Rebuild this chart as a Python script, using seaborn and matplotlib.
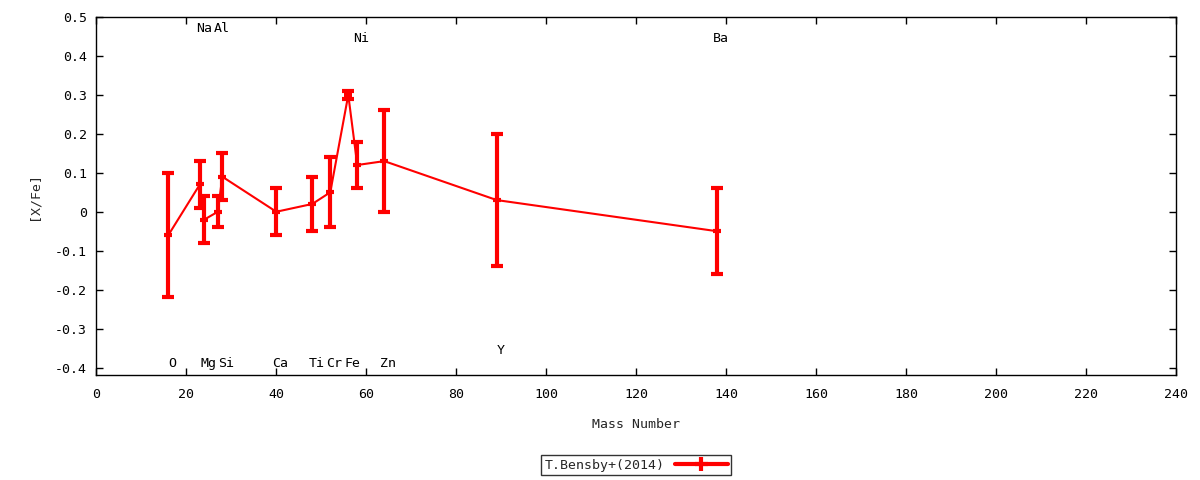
import numpy as np
import pandas as pd
import matplotlib
matplotlib.use('Agg')
import matplotlib.pyplot as plt
import seaborn as sns

# Abundancias T.Bensby+(2014)
elementos = ['O', 'Na', 'Mg', 'Al', 'Si', 'Ca', 'Ti', 'Cr', 'Fe', 'Ni', 'Zn', 'Y', 'Ba']
masa = [16, 23, 24, 27, 28, 40, 48, 52, 56, 58, 64, 89, 138]
x_fe = [-0.06, 0.07, -0.02, 0.00, 0.09, 0.00, 0.02, 0.05, 0.30, 0.12, 0.13, 0.03, -0.05]
error = [0.16, 0.06, 0.06, 0.04, 0.06, 0.06, 0.07, 0.09, 0.01, 0.06, 0.13, 0.17, 0.11]

# altura de las etiquetas de cada elemento
y_etiqueta = [-0.39, 0.47, -0.39, 0.47, -0.39, -0.39, -0.39, -0.39, -0.39, 0.445, -0.39, -0.355, 0.445]

df = pd.DataFrame({'elemento': elementos, 'masa': masa, 'x_fe': x_fe, 'error': error})

sns.set_style('ticks')
plt.rcParams['font.family'] = ['DejaVu Sans Mono']
plt.rcParams['font.size'] = 9.5

fig = plt.figure(figsize=(12, 4.8), dpi=100)
ax = fig.add_axes([0.0803, 0.218, 0.8997, 0.7466])

rojo = '#ff0000'
sns.lineplot(data=df, x='masa', y='x_fe', sort=False, color=rojo, linewidth=1.5, ax=ax)
ax.errorbar(df['masa'], df['x_fe'], yerr=df['error'], fmt='none', ecolor=rojo,
            elinewidth=3, capsize=4, capthick=3, zorder=3)
# marcas horizontales en el valor central
ax.errorbar(df['masa'], df['x_fe'], xerr=0.9, fmt='none', ecolor=rojo,
            elinewidth=3, zorder=3)

for el, m, yl in zip(elementos, masa, y_etiqueta):
    ax.annotate(el, xy=(m, yl), xytext=(3, 0), textcoords='offset points',
                ha='center', va='center', fontsize=9.5, color='black')

ax.set_xlim(0, 240)
ax.set_ylim(-0.42, 0.5)
ax.set_xticks(np.arange(0, 241, 20))
ax.set_yticks(np.arange(-0.4, 0.51, 0.1))
ax.set_yticklabels(['-0.4', '-0.3', '-0.2', '-0.1', '0', '0.1', '0.2', '0.3', '0.4', '0.5'])
ax.tick_params(direction='in', top=True, right=True, length=5, width=1, colors='black')
ax.tick_params(axis='x', pad=9)
ax.tick_params(axis='y', pad=7)
for s in ax.spines.values():
    s.set_linewidth(1)
    s.set_color('black')

ax.set_xlabel('Mass Number', labelpad=12)
ax.set_ylabel('[X/Fe]', labelpad=10)

h = ax.errorbar([], [], yerr=[], xerr=[], color=rojo, ecolor=rojo, elinewidth=3,
                linewidth=3, capsize=3, capthick=3)
leg = fig.legend([h], ['T.Bensby+(2014)'], loc='center', bbox_to_anchor=(0.53, 0.031),
                 frameon=True, fancybox=False, edgecolor='black', markerfirst=False,
                 handlelength=4, borderpad=0.25, fontsize=9.5)
leg.get_frame().set_linewidth(1)

fig.savefig('out.png', dpi=100)
